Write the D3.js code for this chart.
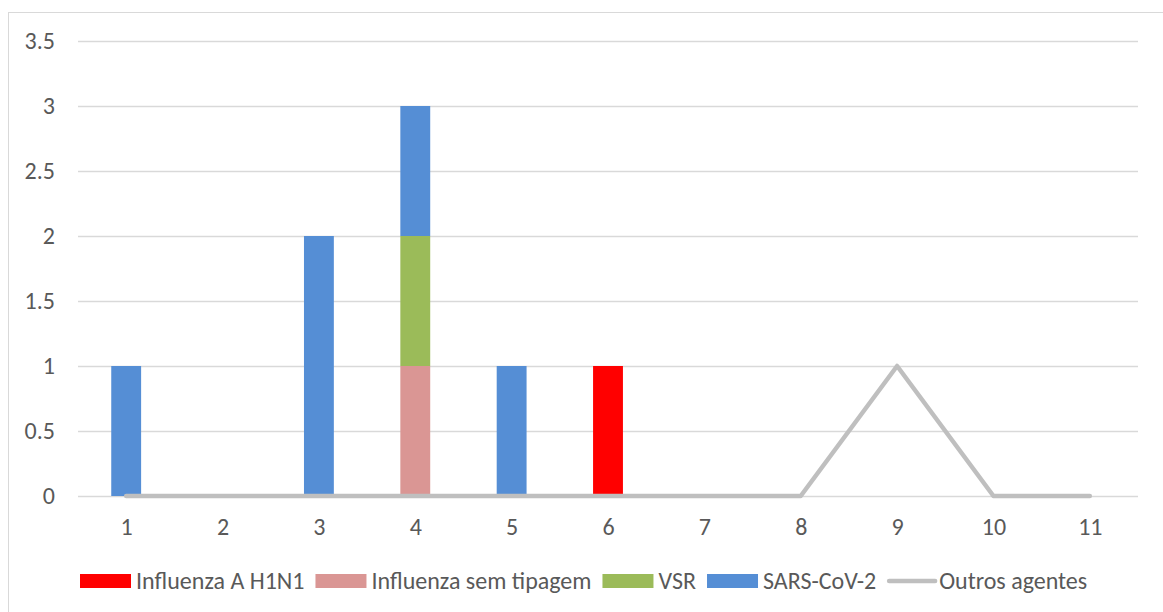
<!DOCTYPE html>
<html>
<head>
<meta charset="utf-8">
<script src="https://cdn.jsdelivr.net/npm/d3@7"></script>
<style>
  body { margin: 0; background: #fff; }
  svg { display: block; }
  svg text { font-family: Calibri, Carlito, "Open Sans", sans-serif; font-size: 24px; fill: #595959; }
</style>
</head>
<body>
<div id="chart"></div>
<script>
'use strict';

// chart data
var categories = ['1', '2', '3', '4', '5', '6', '7', '8', '9', '10', '11'];
var h1n1 = [0, 0, 0, 0, 0, 1, 0, 0, 0, 0, 0];
var semTipagem = [0, 0, 0, 1, 0, 0, 0, 0, 0, 0, 0];
var vsr = [0, 0, 0, 1, 0, 0, 0, 0, 0, 0, 0];
var sarsCov2 = [1, 0, 2, 1, 1, 0, 0, 0, 0, 0, 0];
var outros = [0, 0, 0, 0, 0, 0, 0, 0, 1, 0, 0];
var yTicks = [0, 0.5, 1, 1.5, 2, 2.5, 3, 3.5];

var series = [
  {name: 'Influenza A H1N1', values: h1n1, color: '#ff0000'},
  {name: 'Influenza sem tipagem', values: semTipagem, color: '#da9694'},
  {name: 'VSR', values: vsr, color: '#9bbb59'},
  {name: 'SARS-CoV-2', values: sarsCov2, color: '#558ed5'}
];
var lineSeries = {name: 'Outros agentes', values: outros, color: '#bfbfbf'};

var width = 1163, height = 612;
var margin = {top: 41, right: 25, bottom: 116, left: 78};

var svg = d3.select('#chart')
  .append('svg')
  .attr('width', width)
  .attr('height', height);

// outer chart border
svg.append('rect')
  .attr('x', 8.5).attr('y', 12.5)
  .attr('width', width).attr('height', height)
  .attr('fill', 'none')
  .attr('stroke', '#d9d9d9');

var x = d3.scaleBand()
  .domain(categories)
  .range([margin.left, width - margin.right])
  .paddingInner(0.69)
  .paddingOuter(0.345);

var xc = d3.scalePoint()
  .domain(categories)
  .range([margin.left, width - margin.right])
  .padding(0.5);

var y = d3.scaleLinear()
  .domain([0, 3.5])
  .range([height - margin.bottom, margin.top]);

// gridlines
svg.append('g')
  .selectAll('line')
  .data(yTicks)
  .enter().append('line')
  .attr('x1', margin.left)
  .attr('x2', width - margin.right)
  .attr('y1', function (d) { return Math.round(y(d)) + 0.5; })
  .attr('y2', function (d) { return Math.round(y(d)) + 0.5; })
  .attr('stroke', '#d9d9d9')
  .attr('stroke-width', 1.3);

// y axis labels
var yAxis = d3.axisLeft(y).tickValues(yTicks).tickSize(0).tickPadding(0)
  .tickFormat(function (d) { return String(d); });
svg.append('g')
  .attr('transform', 'translate(55,0)')
  .call(yAxis)
  .call(function (g) { g.select('.domain').remove(); });

// x axis labels
var xAxis = d3.axisBottom(xc).tickSize(0).tickPadding(0);
svg.append('g')
  .attr('transform', 'translate(0,' + (height - margin.bottom + 22) + ')')
  .call(xAxis)
  .call(function (g) { g.select('.domain').remove(); });

// stacked bars
var rows = categories.map(function (c, i) {
  var row = {cat: c};
  series.forEach(function (s) { row[s.name] = s.values[i]; });
  return row;
});
var stack = d3.stack().keys(series.map(function (s) { return s.name; }));
var layers = stack(rows);

svg.append('g')
  .selectAll('g')
  .data(layers)
  .enter().append('g')
  .attr('fill', function (d, i) { return series[i].color; })
  .selectAll('rect')
  .data(function (d) { return d.filter(function (p) { return p[1] - p[0] > 0; }); })
  .enter().append('rect')
  .attr('x', function (d) { return x(d.data.cat); })
  .attr('width', x.bandwidth())
  .attr('y', function (d) { return y(d[1]); })
  .attr('height', function (d) { return y(d[0]) - y(d[1]); });

// line series
var line = d3.line()
  .x(function (d, i) { return xc(categories[i]); })
  .y(function (d) { return y(d); });

svg.append('path')
  .attr('d', line(lineSeries.values))
  .attr('fill', 'none')
  .attr('stroke', lineSeries.color)
  .attr('stroke-width', 4.5)
  .attr('stroke-linejoin', 'round')
  .attr('stroke-linecap', 'round');

// legend, laid out left to right from measured text widths
var legendY = 581;
var legend = svg.append('g');
var items = series.concat([lineSeries]);
var cursor = 80;
items.forEach(function (s, i) {
  var g = legend.append('g').attr('transform', 'translate(' + cursor + ',' + legendY + ')');
  if (i < series.length) {
    g.append('rect')
      .attr('x', 0).attr('y', -7)
      .attr('width', 51).attr('height', 14)
      .attr('fill', s.color);
  } else {
    g.append('line')
      .attr('x1', 2).attr('x2', 48)
      .attr('y1', 0).attr('y2', 0)
      .attr('stroke', s.color)
      .attr('stroke-width', 4.5)
      .attr('stroke-linecap', 'round');
  }
  var tx = i < series.length ? 56 : 52;
  var t = g.append('text')
    .attr('x', tx)
    .attr('y', 8)
    .text(s.name);
  cursor += tx + t.node().getComputedTextLength() + 11;
});
</script>
</body>
</html>
